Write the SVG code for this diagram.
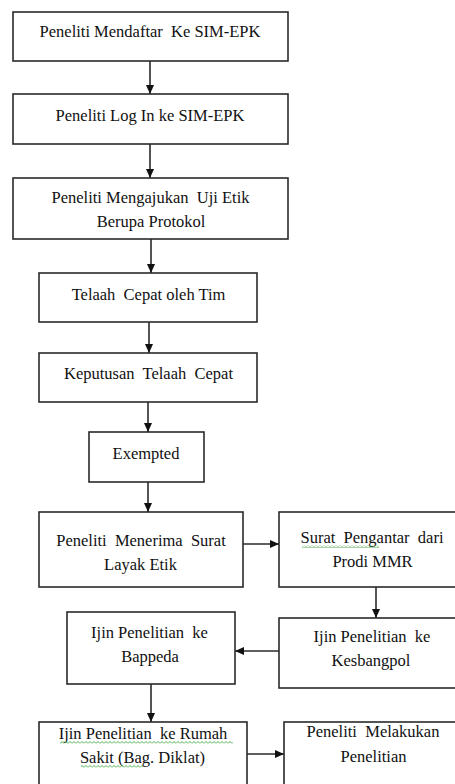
<svg xmlns="http://www.w3.org/2000/svg" width="455" height="784" viewBox="0 0 455 784">
<style>
.box{fill:#fff;stroke:#2a2a2a;stroke-width:1.6}
.t{font-family:'Liberation Serif','DejaVu Serif',serif;font-size:16.5px;fill:#111;text-anchor:middle;white-space:pre}
.c{stroke:#2a2a2a;stroke-width:1.6;fill:none;marker-end:url(#ah)}
</style>
<defs>
<marker id="ah" markerUnits="userSpaceOnUse" markerWidth="10" markerHeight="10" refX="9" refY="5" orient="auto">
<path d="M0,1 L9,5 L0,9 Z" fill="#111"/>
</marker>
<pattern id="wave" x="0" y="0" width="4" height="3" patternUnits="userSpaceOnUse">
<path d="M0,2.5 L2,0.5 L4,2.5" stroke="#3aa63a" stroke-width="0.9" fill="none"/>
</pattern>
</defs>
<rect width="455" height="784" fill="#fff"/>
<g id="connectors">
<line class="c" x1="150" y1="61" x2="150" y2="94"/>
<line class="c" x1="150" y1="144" x2="150" y2="178"/>
<line class="c" x1="151" y1="239" x2="151" y2="273"/>
<line class="c" x1="149" y1="322" x2="149" y2="353"/>
<line class="c" x1="148" y1="402" x2="148" y2="432"/>
<line class="c" x1="148" y1="482" x2="148" y2="512"/>
<line class="c" x1="243" y1="544" x2="279" y2="544"/>
<line class="c" x1="376" y1="587" x2="376" y2="618"/>
<line class="c" x1="279" y1="651" x2="235" y2="651"/>
<line class="c" x1="151" y1="684" x2="151" y2="722"/>
<line class="c" x1="247" y1="754" x2="284" y2="754"/>
</g>
<g id="n1"><rect class="box" x="13" y="12" width="275" height="49"/><text class="t" font-family="Liberation Serif, serif" x="150" y="37">Peneliti Mendaftar  Ke SIM-EPK</text></g>
<g id="n2"><rect class="box" x="13" y="94" width="275" height="50"/><text class="t" x="150" y="121">Peneliti Log In ke SIM-EPK</text></g>
<g id="n3"><rect class="box" x="13" y="178" width="275" height="61"/><text class="t" x="150.5" y="203">Peneliti Mengajukan  Uji Etik</text><text class="t" x="151" y="227">Berupa Protokol</text></g>
<g id="n4"><rect class="box" x="39" y="273" width="218" height="49"/><text class="t" x="148.5" y="300">Telaah  Cepat oleh Tim</text></g>
<g id="n5"><rect class="box" x="39" y="353" width="218" height="49"/><text class="t" x="148.5" y="379">Keputusan  Telaah  Cepat</text></g>
<g id="n6"><rect class="box" x="89" y="432" width="115" height="50"/><text class="t" x="146" y="459">Exempted</text></g>
<g id="n7"><rect class="box" x="39" y="512" width="204" height="75"/><text class="t" x="141" y="546">Peneliti  Menerima  Surat</text><text class="t" x="140.5" y="570">Layak Etik</text></g>
<g id="n8"><rect class="box" x="279" y="512" width="181" height="75"/><text class="t" x="372" y="543">Surat  Pengantar  dari</text><text class="t" x="372.5" y="567">Prodi MMR</text><rect x="302" y="545" width="77" height="3" fill="url(#wave)"/></g>
<g id="n9"><rect class="box" x="279" y="618" width="181" height="70"/><text class="t" x="372" y="642">Ijin Penelitian  ke</text><text class="t" x="371" y="666">Kesbangpol</text></g>
<g id="n10"><rect class="box" x="67" y="612" width="168" height="72"/><text class="t" x="149.5" y="638">Ijin Penelitian  ke</text><text class="t" x="150" y="662">Bappeda</text></g>
<g id="n11"><rect class="box" x="39" y="722" width="208" height="70"/><text class="t" x="143" y="739">Ijin Penelitian  ke Rumah</text><text class="t" x="142.5" y="763">Sakit (Bag. Diklat)</text><rect x="60" y="741" width="173" height="3" fill="url(#wave)"/><rect x="81" y="765" width="62" height="3" fill="url(#wave)"/></g>
<g id="n12"><rect class="box" x="284" y="722" width="176" height="70"/><text class="t" x="373" y="737">Peneliti  Melakukan</text><text class="t" x="373.5" y="762">Penelitian</text></g>
</svg>
